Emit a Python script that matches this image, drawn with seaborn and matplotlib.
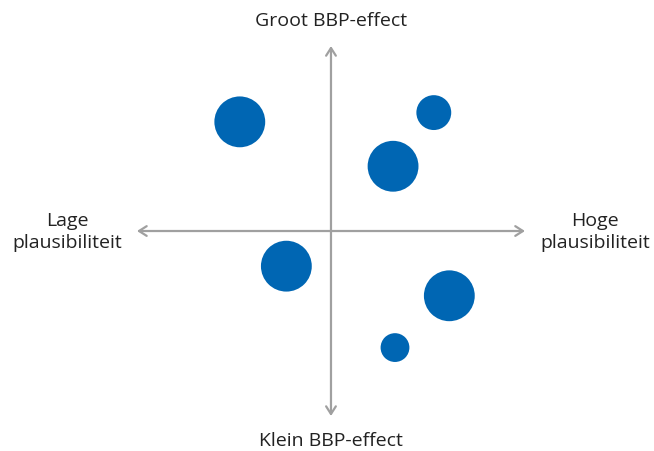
import numpy as np
import pandas as pd
import seaborn as sns
import matplotlib.pyplot as plt

# plausibiliteit (x) en BBP-effect (y) per scenario, grootte = klasse
plaus = [-4.7, 5.3, 3.2, -2.3, 6.1, 3.3]
bbp = [5.9, 6.4, 3.5, -1.9, -3.5, -6.3]
grootte = [3, 2, 3, 3, 3, 1]

top_label = "Groot BBP-effect"
bottom_label = "Klein BBP-effect"
left_label = "Lage\nplausibiliteit"
right_label = "Hoge\nplausibiliteit"

blue = "#0066b3"
grey = "#a0a0a0"

df = pd.DataFrame({"plaus": plaus, "bbp": bbp, "grootte": grootte})

sns.set_style("white")
plt.rcParams['font.family'] = ['Open Sans', 'DejaVu Sans']

fig = plt.figure(figsize=(6.54, 4.52), dpi=100)
ax = fig.add_axes([0, 0, 1, 1])
ax.set_xlim(-17.06, 16.65)
ax.set_ylim(-11.89, 12.54)
ax.axis("off")

arrow = dict(arrowstyle="<->,head_length=0.55,head_width=0.35", color=grey,
             lw=1.6, shrinkA=0, shrinkB=0)
ax.annotate("", xy=(-10, 0), xytext=(10, 0), arrowprops=arrow)
ax.annotate("", xy=(0, -10), xytext=(0, 10), arrowprops=arrow)

sns.scatterplot(data=df, x="plaus", y="bbp", size="grootte",
                sizes={1: 430, 2: 630, 3: 1340}, color=blue,
                edgecolor="none", legend=False, ax=ax, zorder=3)
ax.set_xlim(-17.06, 16.65)
ax.set_ylim(-11.89, 12.54)

ax.text(0, 11.4, top_label, ha="center", va="center", fontsize=14,
        color="#222222")
ax.text(0, -11.3, bottom_label, ha="center", va="center", fontsize=14,
        color="#222222")
ax.text(-13.6, 0.0, left_label, ha="center", va="center", fontsize=14,
        color="#222222", linespacing=1.3)
ax.text(13.6, 0.0, right_label, ha="center", va="center", fontsize=14,
        color="#222222", linespacing=1.3)

fig.savefig("out.png", dpi=100)
